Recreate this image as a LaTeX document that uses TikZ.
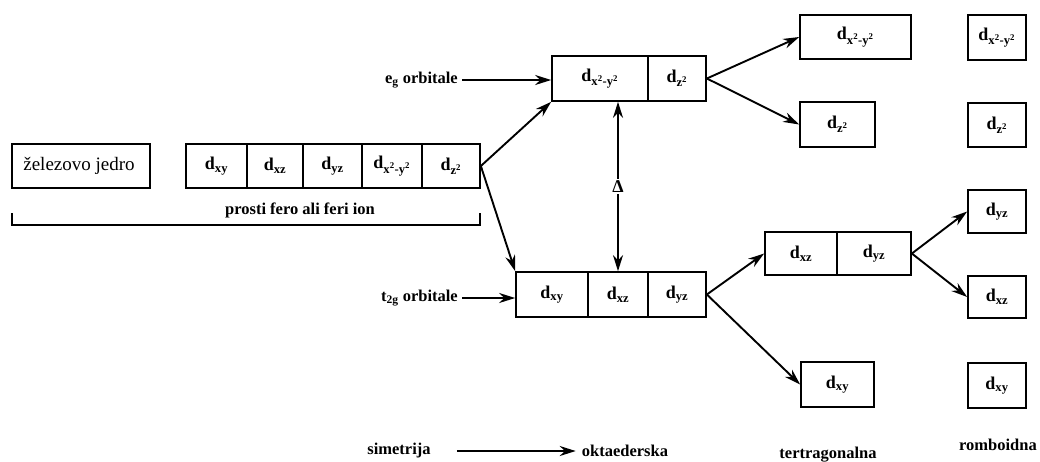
\documentclass[tikz,border=0pt]{standalone}
\usepackage{fontspec}
\setmainfont{Liberation Serif}
\usetikzlibrary{arrows.meta}
\newcommand\dorb[1]{\textbf{d}\textsubscript{\textbf{#1}}}
\newcommand\dxxyy{\dorb{x\textsuperscript{2}-y\textsuperscript{2}}}
\newcommand\dzz{\dorb{z\textsuperscript{2}}}
\begin{document}
\begin{tikzpicture}[x=1pt,y=-1pt,
  cell/.style={draw, line width=1.7pt, inner sep=0pt, minimum height=44pt, font=\fontsize{18}{18}\selectfont},
  lbl/.style={inner sep=0pt, font=\bfseries\fontsize{16.5}{16.5}\selectfont},
  arr/.style={line width=1.9pt, -{Stealth[length=16pt,width=10pt]}},
  darr/.style={line width=1.9pt, {Stealth[length=16pt,width=10pt]}-{Stealth[length=16pt,width=10pt]}}]
\useasboundingbox (0,0) rectangle (1040,461);
% free ion
\node[cell, minimum width=138pt, font=\fontsize{19}{19}\selectfont] (fe) at (81,166) {železovo jedro\hspace*{4pt}};
\node[cell, minimum width=61pt] (c1) at (216.5,166) {\dorb{xy}};
\node[cell, minimum width=56pt] (c2) at (275,166) {\dorb{xz}};
\node[cell, minimum width=59pt] (c3) at (332.5,166) {\dorb{yz}};
\node[cell, minimum width=60pt] (c4) at (392,166) {\dxxyy};
\node[cell, minimum width=58pt] (c5) at (451,166) {\dzz};
\node[lbl] (ion) at (300,210) {prosti fero ali feri ion};
\coordinate (b1) at (12,213);
\coordinate (b2) at (480,213);
\draw[line width=1.7pt] (b1) -- ++(0,12) -| (b2);
% octahedral
\node[cell, minimum width=96pt, minimum height=45pt] (e1) at (600,78.5) {\dxxyy};
\node[cell, minimum width=58pt, minimum height=45pt] (e2) at (677,78.5) {\dzz};
\node[cell, minimum width=72pt, minimum height=45pt] (t1) at (552,294.5) {\dorb{xy}};
\node[cell, minimum width=60pt, minimum height=45pt] (t2) at (618,294.5) {\dorb{xz}};
\node[cell, minimum width=58pt, minimum height=45pt] (t3) at (677,294.5) {\dorb{yz}};
\node[lbl, anchor=east] (eg) at (458,80) {e\textsubscript{g} orbitale};
\node[lbl, anchor=east] (tg) at (458,298) {t\textsubscript{2g} orbitale};
\draw[arr] (eg.east) ++(4,0) -- (e1.west |- eg.east);
\draw[arr] (tg.east) ++(4,0) -- (t1.west |- tg.east);
\draw[arr] (c5.east) -- (e1.south west);
\draw[arr] (c5.east) -- (t1.north west);
\draw[darr] (t2.north |- e1.south) -- node[fill=white, inner sep=2pt, font=\bfseries\fontsize{18}{18}\selectfont] (delta) {Δ} (t2.north);
% tetragonal
\node[cell, minimum width=111pt] (q1) at (855.5,37) {\dxxyy};
\node[cell, minimum width=75pt, minimum height=45pt] (q2) at (837.5,124.5) {\dzz};
\node[cell, minimum width=72pt, minimum height=43pt] (q3) at (801,253.5) {\dorb{xz}};
\node[cell, minimum width=74pt, minimum height=43pt] (q4) at (874,253.5) {\dorb{yz}};
\node[cell, minimum width=73pt, minimum height=45pt] (q5) at (837.5,384.5) {\dorb{xy}};
\draw[arr] (e2.east) -- (q1.west);
\draw[arr] (e2.east) -- (q2.west);
\draw[arr] (t3.east) -- (q3.west);
\draw[arr] (t3.east) -- (q5.west);
% rhombic
\node[cell, minimum width=58pt, minimum height=45pt] (r1) at (997,37.5) {\dxxyy};
\node[cell, minimum width=58pt] (r2) at (997,125) {\dzz};
\node[cell, minimum width=58pt, minimum height=43pt] (r3) at (997,211.5) {\dorb{yz}};
\node[cell, minimum width=58pt, minimum height=42pt] (r4) at (997,297) {\dorb{xz}};
\node[cell, minimum width=58pt, minimum height=45pt] (r5) at (997,385.5) {\dorb{xy}};
\draw[arr] (q4.east) -- (r3.west);
\draw[arr] (q4.east) -- (r4.west);
% bottom labels
\node[lbl] (sim) at (399,451) {simetrija};
\node[lbl] (okt) at (625,451) {oktaederska};
\node[lbl] (ter) at (828,455) {tertragonalna};
\node[lbl, anchor=east] (rom) at (1037,445) {romboidna};
\draw[arr] (sim.east) ++(26,0) -- ([xshift=-6pt]okt.west);
\end{tikzpicture}
\end{document}
